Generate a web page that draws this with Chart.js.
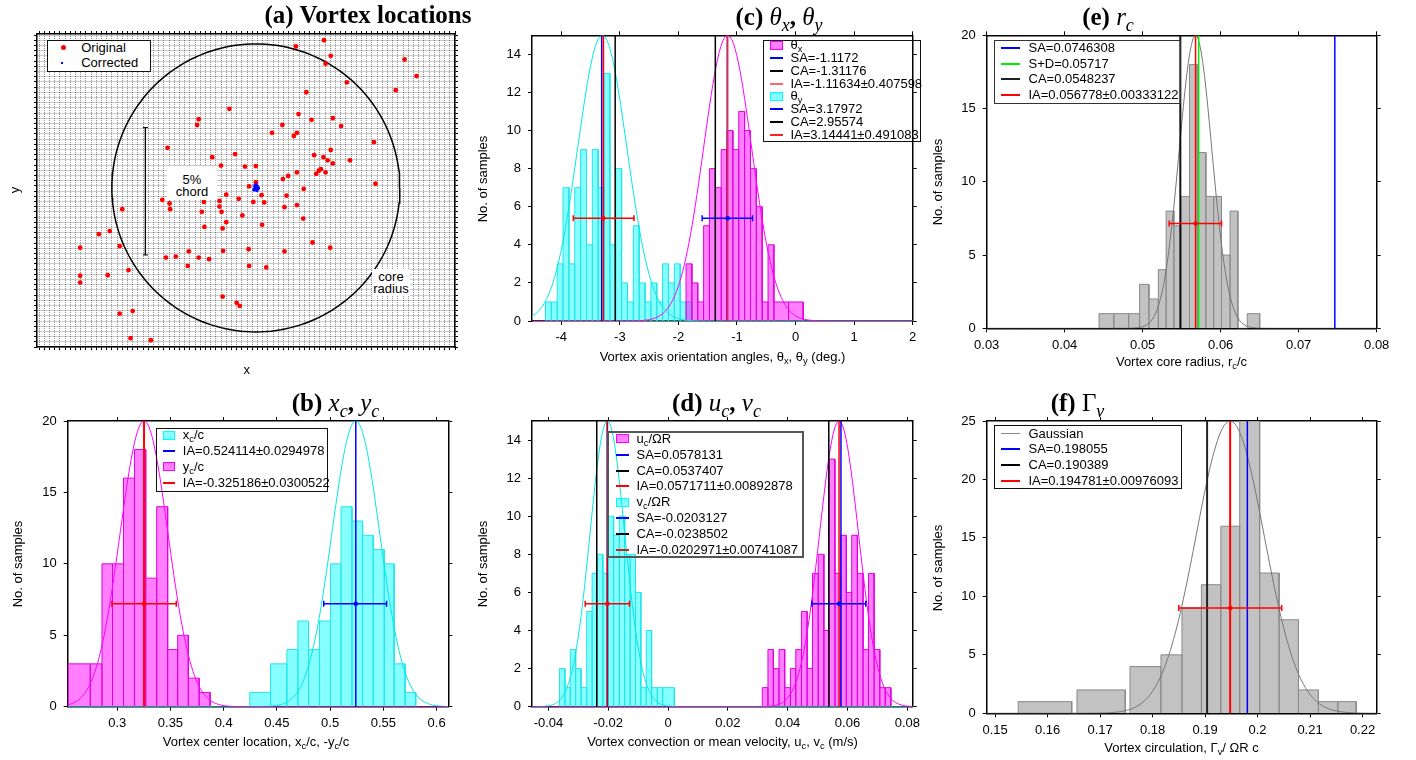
<!DOCTYPE html>
<html>
<head>
<meta charset="utf-8">
<title>Vortex statistics</title>
<script src="https://cdn.jsdelivr.net/npm/chart.js@4.4.1/dist/chart.umd.min.js"></script>
<style>
  body { margin: 0; background: #fff; }
  #page { position: relative; width: 1416px; height: 760px; overflow: hidden; background: #fff;
          font-family: 'Liberation Sans', Arial, sans-serif; color: #000; }
  #page canvas { position: absolute; }
  .ttl { position: absolute; transform: translate(-50%, -50%); white-space: nowrap;
         font-family: 'Liberation Serif', 'Times New Roman', serif; font-size: 25px; line-height: 30px; }
  .ttl i { font-weight: normal; }
  .lbl { position: absolute; transform: translate(-50%, -50%); white-space: nowrap; font-size: 13px; line-height: 16px; }
  .rot { transform: translate(-50%, -50%) rotate(-90deg); }
  sub { font-size: 72%; line-height: 0; vertical-align: -0.35em; }
  .leg { position: absolute; box-sizing: border-box; border: 1.5px solid #111; font-size: 13px; }
  .leg div { position: absolute; white-space: nowrap; }
  .note { position: absolute; background: #fff; text-align: center; font-size: 13px; line-height: 12.7px; box-sizing: border-box; }
</style>
</head>
<body>
<div id="page"></div>
<script>
// ---- (a) vortex locations (grid units, 1 unit = one major division)
const origX = [4.44, 4.98, 5.11, 5.01, 6.53, 6.76, 5.42, 6.36, 4.64, 3.16,
  2.57, 2.54, 4.49, 4.74, 5.15, 5.31, 4.18, 3.98, 4.40, 4.46,
  5.94, 1.97, 2.83, 3.27, 4.79, 4.97, 5.11, 5.05, 5.15, 5.48,
  3.00, 3.46, 3.67, 4.29, 4.46, 4.19, 4.92, 4.88, 4.83, 5.01,
  5.97, 3.67, 3.54, 4.59, 3.78, 4.26, 3.10, 1.87, 2.01, 2.67,
  2.97, 3.34, 3.62, 3.83, 2.02, 1.10, 2.97, 3.01, 2.63, 4.22,
  4.46, 3.41, 4.58, 3.10, 2.68, 3.03, 3.79, 0.86, 0.65, 0.29,
  1.05, 4.76, 5.10, 4.22, 3.04, 2.38, 3.53, 1.94, 2.13, 2.57,
  2.77, 2.36, 3.54, 3.87, 1.22, 0.82, 0.29, 0.29, 3.03, 3.30,
  3.36, 1.05, 1.30, 1.26, 1.65];
const origY = [2.78, 2.90, 2.60, 2.45, 2.53, 2.21, 2.09, 1.94, 1.90, 1.58,
  1.38, 1.27, 1.48, 1.37, 1.40, 1.25, 1.27, 1.12, 1.06, 1.12,
  0.94, 0.83, 0.65, 0.71, 0.69, 0.65, 0.79, 0.59, 0.53, 0.59,
  0.49, 0.47, 0.48, 0.29, 0.36, 0.23, 0.42, 0.39, 0.33, 0.36,
  0.14, 0.17, 0.09, 0.04, -0.08, -0.09, -0.07, -0.17, -0.24, -0.21,
  -0.19, -0.15, -0.21, -0.22, -0.35, -0.35, -0.30, -0.40, -0.40, -0.31,
  -0.27, -0.47, -0.53, -0.60, -0.69, -0.72, -0.65, -0.77, -0.83, -1.09,
  -1.06, -0.99, -1.09, -1.16, -1.15, -1.16, -1.12, -1.28, -1.26, -1.28,
  -1.31, -1.44, -1.44, -1.47, -1.52, -1.62, -1.63, -1.76, -2.03, -2.15,
  -2.21, -2.36, -2.31, -2.83, -2.87];
const corrX = [3.63, 3.65, 3.68, 3.70, 3.66, 3.64, 3.69, 3.67, 3.71, 3.65, 3.68, 3.72];
const corrY = [0.03, 0.07, 0.05, 0.09, 0.11, 0.02, 0.01, 0.08, 0.04, 0.10, 0.12, 0.06];
const coreCenter = [3.67, 0.06];
const coreRadius = 2.77;
const chordX = 1.545;
const chordY = [-1.23, 1.22];

// ---- (b) vortex center location
const ycEdges = [0.2535, 0.2747, 0.2857, 0.2956, 0.3059, 0.3162, 0.3268, 0.3371, 0.3474, 0.3568, 0.3668, 0.3770, 0.3873];
const ycCounts = [3, 3, 10, 10, 16, 18, 9, 14, 4, 5, 2, 1];
const xcEdges = [0.4245, 0.4441, 0.4594, 0.4697, 0.4797, 0.4900, 0.5003, 0.5102, 0.5205, 0.5305, 0.5405, 0.5508, 0.5601, 0.5704, 0.5804];
const xcCounts = [1, 3, 4, 6, 4, 6, 10, 14, 13, 12, 11, 10, 3, 1];
const locIA = [0.5241, 0.3252];          // x_c, y_c
const locFitSigma = [0.0225, 0.0225];
const locErrLo = [0.494, 0.295];
const locErrHi = [0.553, 0.3555];
const locErrY = 7.2;

// ---- (c) axis orientation angles
const thxEdges = [-1.87, -1.77, -1.67, -1.57, -1.47, -1.37, -1.27, -1.17, -1.07, -0.97, -0.87, -0.77, -0.67, -0.57, -0.47, -0.37, -0.12, 0.13];
const thxCounts = [3, 2, 1, 5, 8, 7, 9, 10, 9, 11, 10, 8, 6, 1, 4, 1, 1];
const thyEdges = [-4.27, -4.17, -4.07, -3.97, -3.87, -3.77, -3.67, -3.57, -3.47, -3.37, -3.27, -3.17, -3.07,
  -2.97, -2.87, -2.77, -2.67, -2.57, -2.47, -2.37, -2.27, -2.17, -2.07, -1.97, -1.87, -1.77];
const thyCounts = [1, 1, 3, 7, 3, 7, 9, 4, 9, 7, 13, 4, 8, 2, 1, 5, 2, 1, 2, 1, 3, 2, 3, 1, 1];
const thSA = [-1.165, -3.31];            // theta_x, theta_y
const thCA = [-1.37, -3.08];
const thIA = [-1.16, -3.28];
const thFitMu = [-1.16, -3.30];
const thFitSigma = [0.41, 0.42];
const thErrLo = [-1.595, -3.795];
const thErrHi = [-0.735, -2.758];
const thErrY = 5.4;

// ---- (d) convection velocity
const ucEdges = [0.0315, 0.0334, 0.0352, 0.0371, 0.0390, 0.0409, 0.0427, 0.0446, 0.0465, 0.0483, 0.0502, 0.0521,
  0.0539, 0.0558, 0.0577, 0.0596, 0.0614, 0.0633, 0.0652, 0.0670, 0.0689, 0.0708, 0.0726, 0.0745];
const ucCounts = [1, 3, 2, 3, 1, 2, 3, 5, 2, 7, 8, 4, 13, 7, 9, 6, 9, 7, 3, 7, 3, 1, 1];
const vcEdges = [-0.0363, -0.0345, -0.0327, -0.0309, -0.0291, -0.0272, -0.0254, -0.0236, -0.0218, -0.0200, -0.0182,
  -0.0163, -0.0145, -0.0127, -0.0109, -0.0091, -0.0073, -0.0055, -0.0036, -0.0018, 0.0021];
const vcCounts = [2, 1, 3, 2, 1, 5, 7, 8, 7, 10, 9, 10, 8, 8, 6, 1, 4, 1, 1, 1];
const velSA = [0.0578131, -0.0203127];   // u_c, v_c
const velCA = [0.0537407, -0.0238502];
const velIA = [0.0571711, -0.0202971];
const velFitSigma = [0.0065, 0.0058];
const velErrLo = [0.0481, -0.0277];
const velErrHi = [0.0661, -0.0129];
const velErrY = 5.4;

// ---- (e) core radius
const rcEdges = [0.0444, 0.0463, 0.0482, 0.0496, 0.0508, 0.0520, 0.0530, 0.0540, 0.0549, 0.0560, 0.0570, 0.0581,
  0.0591, 0.0601, 0.0612, 0.0622, 0.0634, 0.0650];
const rcCounts = [1, 1, 1, 3, 2, 4, 8, 7, 9, 18, 12, 9, 9, 5, 8, 0, 1];
const rcLines = [0.0746308, 0.05717, 0.0548237, 0.056778];   // SA, S+D, CA, IA
const rcFitSigma = 0.0021;
const rcErr = [0.0534, 0.0601];
const rcErrY = 7.16;

// ---- (f) circulation
const gamEdges = [0.1544, 0.1646, 0.1656, 0.1748, 0.1757, 0.1816, 0.1856, 0.1893, 0.1930, 0.1966, 0.2004, 0.2041, 0.2078, 0.2116, 0.2153, 0.2188];
const gamCounts = [1, 0, 2, 0, 4, 5, 9, 11, 16, 25, 12, 8, 2, 1, 1];
const gamLines = [0.198055, 0.190389, 0.194781];            // SA, CA, IA
const gamFitSigma = 0.0065;
const gamErr = [0.1850, 0.2046];
const gamErrY = 9;

const CYAN_FILL = 'rgba(0,255,255,0.48)', CYAN_LINE = '#22e6e6';
const MAG_FILL = 'rgba(255,0,255,0.5)', MAG_LINE = '#e000e0';
const GRAY_FILL = '#c2c2c2', GRAY_LINE = '#8a8a8a';

const page = document.getElementById('page');
const tickFont = { family: "'Liberation Sans', Arial, sans-serif", size: 13 };
const fmt = v => String(parseFloat(Number(v).toFixed(4)));

// histogram outline: each bin is a closed box dropped back to zero
function histPoints(edges, counts) {
  const pts = [];
  counts.forEach((c, i) => {
    pts.push({ x: edges[i], y: 0 }, { x: edges[i], y: c }, { x: edges[i + 1], y: c }, { x: edges[i + 1], y: 0 });
  });
  return pts;
}

// fitted normal curve scaled to the axis top
function gauss(mu, sigma, peak, lo, hi) {
  const pts = [];
  for (let i = 0; i <= 240; i++) {
    const x = lo + (hi - lo) * i / 240;
    pts.push({ x: x, y: peak * Math.exp(-0.5 * Math.pow((x - mu) / sigma, 2)) });
  }
  return pts;
}

const hist = (edges, counts, fill, stroke) => ({
  data: histPoints(edges, counts), fill: 'origin', backgroundColor: fill, borderColor: stroke, borderWidth: 1, pointRadius: 0
});
const vline = (x, top, color, w) => ({
  data: [{ x: x, y: 0 }, { x: x, y: top }], borderColor: color, borderWidth: w || 1.5, pointRadius: 0
});
const curve = (pts, color) => ({ data: pts, borderColor: color, borderWidth: 1, pointRadius: 0 });
const errBar = (lo, mid, hi, y, color) => ({
  data: [{ x: lo, y: y }, { x: mid, y: y }, { x: hi, y: y }],
  borderColor: color, borderWidth: 1.5,
  pointStyle: ['line', 'circle', 'line'], pointRadius: [3, 1.5, 3], pointRotation: 90,
  pointBorderColor: color, pointBackgroundColor: color, pointBorderWidth: 1.5
});

function makePanel(frame, plot, xr, yr, datasets, mesh) {
  const [cx, cy, cw, ch] = frame;
  const [L, T, R, B] = plot;
  const tl = mesh ? 3 : 4;
  const cv = document.createElement('canvas');
  cv.width = cw; cv.height = ch;
  cv.style.left = cx + 'px'; cv.style.top = cy + 'px';
  cv.style.width = cw + 'px'; cv.style.height = ch + 'px';
  page.appendChild(cv);

  const axis = (r, pos, size, main) => ({
    type: 'linear', position: pos, min: r.min, max: r.max,
    border: main && mesh ? { display: true, color: '#000', width: 1.5, dash: [1, 1] } : { display: true, color: '#000', width: 1.5 },
    grid: main && mesh
      ? { drawOnChartArea: true, color: 'rgba(0,0,0,0.42)', lineWidth: 1, tickLength: tl, tickColor: '#000' }
      : { drawOnChartArea: false, tickLength: tl, tickColor: '#000', tickWidth: 1 },
    ticks: {
      display: main && !mesh, stepSize: r.step, includeBounds: false, autoSkip: false, maxRotation: 0,
      font: tickFont, color: '#000', padding: pos === 'left' ? 7 : 5, callback: fmt
    },
    afterFit: s => { if (s.isHorizontal()) s.height = size; else s.width = size; }
  });

  return new Chart(cv, {
    type: 'line',
    data: { datasets: datasets },
    options: {
      responsive: false,
      animation: false,
      events: [],
      layout: { padding: { left: 0, top: T - cy - tl, right: cx + cw - R - tl, bottom: 0 } },
      plugins: { legend: { display: false }, tooltip: { enabled: false } },
      elements: { point: { radius: 0 }, line: { tension: 0 } },
      scales: {
        x: axis(xr, 'bottom', cy + ch - B, true),
        x2: axis(xr, 'top', tl, false),
        y: axis(yr, 'left', L - cx, true),
        y2: axis(yr, 'right', tl, false)
      }
    }
  });
}

function addText(cls, x, y, html) {
  const d = document.createElement('div');
  d.className = cls;
  d.style.left = x + 'px';
  d.style.top = y + 'px';
  d.innerHTML = html;
  page.appendChild(d);
}

function legend(b, entries, bg, edge) {
  const box = document.createElement('div');
  box.className = 'leg';
  Object.assign(box.style, { left: b.l + 'px', top: b.t + 'px', width: b.w + 'px', height: b.h + 'px', background: bg || 'transparent' });
  if (edge) box.style.border = edge;
  entries.forEach((e, i) => {
    const yc = b.y0 + i * b.dy - b.t - 1.5;
    const sw = document.createElement('div');
    let h = 2, w = b.sw;
    if (e.k === 'box') { h = 9; sw.style.background = e.fill; sw.style.border = '1px solid ' + e.c; sw.style.boxSizing = 'border-box'; }
    else if (e.k === 'dot') { h = 5; w = 5; sw.style.background = e.c; sw.style.borderRadius = '50%'; }
    else if (e.k === 'pix') { h = 2; w = 2; sw.style.background = e.c; }
    else { h = e.w || 2; sw.style.background = e.c; }
    Object.assign(sw.style, { left: (b.sx - b.l - 1.5) + 'px', top: (yc - h / 2) + 'px', width: w + 'px', height: h + 'px' });
    box.appendChild(sw);
    const tx = document.createElement('div');
    tx.innerHTML = e.t;
    Object.assign(tx.style, { left: (b.tx - b.l - 1.5) + 'px', top: (yc - 8) + 'px', lineHeight: '16px' });
    box.appendChild(tx);
  });
  page.appendChild(box);
}

function note(l, t, w, h, padTop, html) {
  const d = document.createElement('div');
  d.className = 'note';
  Object.assign(d.style, { left: l + 'px', top: t + 'px', width: w + 'px', height: h + 'px', paddingTop: padTop + 'px' });
  d.innerHTML = html;
  page.appendChild(d);
}

// ---------- (a) scatter of vortex locations
const circlePts = [];
for (let i = 0; i <= 180; i++) {
  const a = 2 * Math.PI * i / 180;
  circlePts.push({ x: coreCenter[0] + coreRadius * Math.cos(a), y: coreCenter[1] + coreRadius * Math.sin(a) });
}
makePanel([0, 0, 465, 380], [37, 34, 455, 347], { min: -0.54, max: 7.5, step: 0.1 }, { min: -3, max: 3.02, step: 0.1 }, [
  { data: corrX.map((x, i) => ({ x: x, y: corrY[i] })), showLine: false, pointStyle: 'rect', pointRadius: 2,
    pointBackgroundColor: '#0000ff', pointBorderWidth: 0 },
  { data: origX.map((x, i) => ({ x: x, y: origY[i] })), showLine: false, pointRadius: 2.4,
    pointBackgroundColor: '#ff0000', pointBorderWidth: 0 },
  { data: [{ x: chordX, y: chordY[1] }, { x: chordX, y: chordY[0] }], borderColor: '#000', borderWidth: 1,
    pointStyle: 'line', pointRadius: 2.5, pointBorderColor: '#000', pointBorderWidth: 1 },
  { data: circlePts, borderColor: '#000', borderWidth: 1.5, pointRadius: 0 }
], true);

// ---------- (c) theta_x, theta_y
makePanel([465, 0, 465, 375], [532, 35.3, 912.7, 321], { min: -4.5, max: 2, step: 1 }, { min: 0, max: 15, step: 2 }, [
  errBar(thErrLo[0], thIA[0], thErrHi[0], thErrY, '#0000ff'),
  errBar(thErrLo[1], thIA[1], thErrHi[1], thErrY, '#ff0000'),
  vline(thIA[0], 15, '#ff2020', 1.5), vline(thIA[1], 15, '#ff0000', 1.5),
  vline(thSA[0], 15, '#0000ff', 1.5), vline(thSA[1], 15, '#0000ff', 1.5),
  vline(thCA[0], 15, '#000', 1.5), vline(thCA[1], 15, '#000', 1.5),
  curve(gauss(thFitMu[0], thFitSigma[0], 15, -4.5, 2), '#ff00ff'),
  curve(gauss(thFitMu[1], thFitSigma[1], 15, -4.5, 2), '#00e8e8'),
  hist(thxEdges, thxCounts, MAG_FILL, MAG_LINE),
  hist(thyEdges, thyCounts, CYAN_FILL, CYAN_LINE)
]);

// ---------- (e) r_c
makePanel([930, 0, 486, 375], [986.7, 35.3, 1376.7, 328.3], { min: 0.03, max: 0.08, step: 0.01 }, { min: 0, max: 20, step: 5 }, [
  errBar(rcErr[0], rcLines[3], rcErr[1], rcErrY, '#ff0000'),
  vline(rcLines[3], 20, '#ff0000', 1.5),
  vline(rcLines[1], 20, '#00ee00', 1.5),
  vline(rcLines[2], 20, '#111', 2),
  vline(rcLines[0], 20, '#0000ff', 1.5),
  curve(gauss(rcLines[3], rcFitSigma, 20, 0.03, 0.08), '#777'),
  hist(rcEdges, rcCounts, GRAY_FILL, GRAY_LINE)
]);

// ---------- (b) x_c, y_c
makePanel([0, 380, 465, 380], [67.7, 421, 448.3, 706.7], { min: 0.2535, max: 0.611, step: 0.05 }, { min: 0, max: 20, step: 5 }, [
  errBar(locErrLo[0], locIA[0], locErrHi[0], locErrY, '#0000ff'),
  errBar(locErrLo[1], locIA[1], locErrHi[1], locErrY, '#ff0000'),
  vline(locIA[0], 20, '#0000ff', 1.5),
  vline(locIA[1], 20, '#ff0000', 2),
  curve(gauss(locIA[1], locFitSigma[1], 20, 0.2535, 0.611), '#ff00ff'),
  curve(gauss(locIA[0], locFitSigma[0], 20, 0.2535, 0.611), '#00e8e8'),
  hist(ycEdges, ycCounts, MAG_FILL, MAG_LINE),
  hist(xcEdges, xcCounts, CYAN_FILL, CYAN_LINE)
]);

// ---------- (d) u_c, v_c
makePanel([465, 380, 465, 380], [532, 421, 912.7, 706.7], { min: -0.0455, max: 0.0818, step: 0.02 }, { min: 0, max: 15, step: 2 }, [
  errBar(velErrLo[0], velIA[0], velErrHi[0], velErrY, '#0000ff'),
  errBar(velErrLo[1], velIA[1], velErrHi[1], velErrY, '#ff0000'),
  vline(velIA[0], 15, '#ff0000', 1.5), vline(velIA[1], 15, '#cc0000', 1.5),
  vline(velSA[0], 15, '#0000ff', 1.5), vline(velSA[1], 15, '#0000ff', 1.5),
  vline(velCA[0], 15, '#000', 1.5), vline(velCA[1], 15, '#000', 1.5),
  curve(gauss(velIA[0], velFitSigma[0], 15, -0.0455, 0.0818), '#ff00ff'),
  curve(gauss(velIA[1], velFitSigma[1], 15, -0.0455, 0.0818), '#00e8e8'),
  hist(ucEdges, ucCounts, MAG_FILL, MAG_LINE),
  hist(vcEdges, vcCounts, CYAN_FILL, CYAN_LINE)
]);

// ---------- (f) Gamma_v
makePanel([930, 380, 486, 380], [986.7, 421, 1376.7, 713.3], { min: 0.1484, max: 0.2227, step: 0.01 }, { min: 0, max: 25, step: 5 }, [
  errBar(gamErr[0], gamLines[2], gamErr[1], gamErrY, '#ff0000'),
  vline(gamLines[0], 25, '#0000ff', 1.5),
  vline(gamLines[2], 25, '#ff0000', 2),
  vline(gamLines[1], 25, '#222', 2),
  curve(gauss(gamLines[2], gamFitSigma, 25, 0.1484, 0.2227), '#777'),
  hist(gamEdges, gamCounts, GRAY_FILL, GRAY_LINE)
]);

// ---------- titles and axis labels
addText('ttl', 368, 15, '<b>(a) Vortex locations</b>');
addText('ttl', 779, 17, '<b>(c)</b> <i>θ<sub>x</sub></i><b>,</b> <i>θ<sub>y</sub></i>');
addText('ttl', 1108, 17, '<b>(e)</b> <i>r<sub>c</sub></i>');
addText('ttl', 335.5, 403, '<b>(b)</b> <i>x<sub>c</sub></i><b>,</b> <i>y<sub>c</sub></i>');
addText('ttl', 716.5, 403, '<b>(d)</b> <i>u<sub>c</sub></i><b>,</b> <i>v<sub>c</sub></i>');
addText('ttl', 1077.5, 403, '<b>(f)</b> Γ<sub><i>v</i></sub>');

addText('lbl', 246.7, 370, 'x');
addText('lbl rot', 15, 190, 'y');
addText('lbl', 722.5, 357, 'Vortex axis orientation angles, θ<sub>x</sub>, θ<sub>y</sub> (deg.)');
addText('lbl', 1181.5, 362, 'Vortex core radius, r<sub>c</sub>/c');
addText('lbl', 256, 742, 'Vortex center location, x<sub>c</sub>/c, -y<sub>c</sub>/c');
addText('lbl', 722.5, 742, 'Vortex convection or mean velocity, u<sub>c</sub>, v<sub>c</sub> (m/s)');
addText('lbl', 1181.5, 748, 'Vortex circulation, Γ<sub>v</sub>/ ΩR c');
addText('lbl rot', 483, 178.5, 'No. of samples');
addText('lbl rot', 937.5, 182, 'No. of samples');
addText('lbl rot', 18, 563.5, 'No. of samples');
addText('lbl rot', 483, 563.5, 'No. of samples');
addText('lbl rot', 937.5, 568, 'No. of samples');

// ---------- legends
legend({ l: 47, t: 40, w: 104, h: 32, y0: 48, dy: 15.7, sx: 61.8, sw: 5, tx: 81.7 }, [
  { k: 'dot', c: '#ff0000', t: 'Original' },
  { k: 'pix', c: '#0000ff', t: 'Corrected' }
], '#fff');
legend({ l: 763, t: 40, w: 158, h: 102, y0: 45.7, dy: 12.8, sx: 770.7, sw: 12.6, tx: 791 }, [
  { k: 'box', fill: MAG_FILL, c: '#ff00ff', t: 'θ<sub>x</sub>' },
  { k: 'line', c: '#0000ff', t: 'SA=-1.1172' },
  { k: 'line', c: '#000', t: 'CA=-1.31176' },
  { k: 'line', c: '#ff6666', t: 'IA=-1.11634±0.407598' },
  { k: 'box', fill: CYAN_FILL, c: '#00ffff', t: 'θ<sub>y</sub>' },
  { k: 'line', c: '#0000ff', t: 'SA=3.17972' },
  { k: 'line', c: '#000', t: 'CA=2.95574' },
  { k: 'line', c: '#ff2020', t: 'IA=3.14441±0.491083' }
]);
legend({ l: 994, t: 40, w: 187, h: 64, y0: 48.3, dy: 15.8, sx: 1001.7, sw: 19, tx: 1029 }, [
  { k: 'line', c: '#0000ff', t: 'SA=0.0746308' },
  { k: 'line', c: '#00ee00', t: 'S+D=0.05717' },
  { k: 'line', c: '#222', t: 'CA=0.0548237' },
  { k: 'line', c: '#ff0000', t: 'IA=0.056778±0.00333122' }
], null, '1.5px solid #333');
legend({ l: 156, t: 428.3, w: 172, h: 64, y0: 435.7, dy: 15.9, sx: 163.3, sw: 12.7, tx: 183.3 }, [
  { k: 'box', fill: CYAN_FILL, c: '#00ffff', t: 'x<sub>c</sub>/c' },
  { k: 'line', c: '#0000ff', t: 'IA=0.524114±0.0294978' },
  { k: 'box', fill: MAG_FILL, c: '#ff00ff', t: 'y<sub>c</sub>/c' },
  { k: 'line', c: '#ff0000', t: 'IA=-0.325186±0.0300522' }
]);
legend({ l: 606.7, t: 430.7, w: 197.3, h: 127.3, y0: 438.3, dy: 15.86, sx: 616, sw: 12.7, tx: 636 }, [
  { k: 'box', fill: MAG_FILL, c: '#ff00ff', t: 'u<sub>c</sub>/ΩR' },
  { k: 'line', c: '#0000ff', t: 'SA=0.0578131' },
  { k: 'line', c: '#000', t: 'CA=0.0537407' },
  { k: 'line', c: '#ff0000', t: 'IA=0.0571711±0.00892878' },
  { k: 'box', fill: CYAN_FILL, c: '#00ffff', t: 'v<sub>c</sub>/ΩR' },
  { k: 'line', c: '#0000ff', t: 'SA=-0.0203127' },
  { k: 'line', c: '#000', t: 'CA=-0.0238502' },
  { k: 'line', c: '#cc2222', t: 'IA=-0.0202971±0.00741087' }
], null, '2px solid #555');
legend({ l: 994, t: 425, w: 188, h: 64, y0: 434, dy: 15.9, sx: 1001.7, sw: 19, tx: 1029 }, [
  { k: 'line', c: '#888', w: 1, t: 'Gaussian' },
  { k: 'line', c: '#0000ff', t: 'SA=0.198055' },
  { k: 'line', c: '#000', t: 'CA=0.190389' },
  { k: 'line', c: '#ff0000', t: 'IA=0.194781±0.00976093' }
]);

// ---------- text boxes on the location map
note(167, 166, 50, 34, 7.5, '5%<br>chord');
note(372, 269, 38, 27, 1.5, 'core<br>radius');
</script>
</body>
</html>
